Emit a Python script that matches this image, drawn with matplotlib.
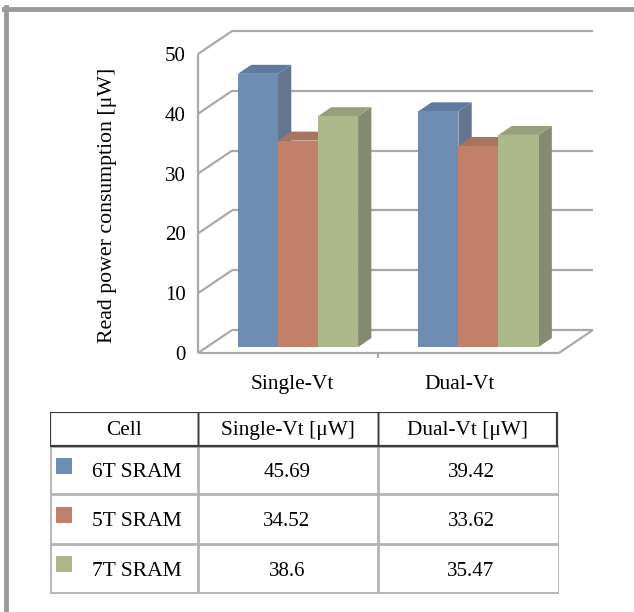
import numpy as np
import matplotlib
matplotlib.use("Agg")
import matplotlib.pyplot as plt
from matplotlib.patches import Polygon, Rectangle
from matplotlib.lines import Line2D

plt.rcParams['font.family'] = ['Liberation Serif', 'DejaVu Serif']

categories = ['Single-Vt', 'Dual-Vt']
cells = ['6T SRAM', '5T SRAM', '7T SRAM']
single_vt = [45.69, 34.52, 38.6]
dual_vt = [39.42, 33.62, 35.47]
yticks = [0, 10, 20, 30, 40, 50]
header = ['Cell', 'Single-Vt [\u03bcW]', 'Dual-Vt [\u03bcW]']

# front / top / side shades for each series
front_cols = ['#6f8cb3', '#c27f69', '#aeb98b']
top_cols = ['#5f7aa0', '#a8735f', '#97a07a']
side_cols = ['#65748f', '#9c6e5f', '#858b71']

W, H = 634, 612
fig = plt.figure(figsize=(W / 100, H / 100), dpi=100)

# depth of the box in data units
DX, DY = 0.189, 3.85
ymax = 50

def fbox(x0, y0, x1, y1):
    # pixel box (top-left origin) -> figure fraction rect
    return [x0 / W, 1 - y1 / H, (x1 - x0) / W, (y1 - y0) / H]

ax = fig.add_axes(fbox(198, 31, 593, 353))
ax.set_xlim(0, 2 + DX)
ax.set_ylim(0, ymax + DY)
for s in ax.spines.values():
    s.set_visible(False)

grid_c = '#a9a9a9'
gkw = dict(color=grid_c, lw=1.6, solid_capstyle='butt', zorder=1, clip_on=False)
for v in yticks:
    ax.plot([DX, 2 + DX], [v + DY, v + DY], **gkw)
    ax.plot([0, DX], [v, v + DY], **gkw)
ax.plot([0, 0], [0, ymax], **gkw)
ax.plot([0, 2], [0, 0], **gkw)
ax.plot([2, 2 + DX], [0, DY], **gkw)
ax.plot([1, 1], [0, -0.8], **gkw)

# pseudo-3D columns
bw = 0.222
d0, d1 = 0.26, 0.65
series = np.array([single_vt, dual_vt]).T
for gi, gc in enumerate([0.505, 1.505]):
    for si in range(3):
        v = series[si, gi]
        x0 = gc - 1.5 * bw + si * bw + d0 * DX
        x1 = x0 + bw
        y0 = d0 * DY
        ddx, ddy = (d1 - d0) * DX, (d1 - d0) * DY
        side = [(x1, y0), (x1 + ddx, y0 + ddy), (x1 + ddx, y0 + v + ddy), (x1, y0 + v)]
        top = [(x0, y0 + v), (x1, y0 + v), (x1 + ddx, y0 + v + ddy), (x0 + ddx, y0 + v + ddy)]
        ax.add_patch(Polygon(side, closed=True, fc=side_cols[si], ec='none', zorder=2))
        ax.add_patch(Polygon(top, closed=True, fc=top_cols[si], ec='none', zorder=2))
        ax.add_patch(Rectangle((x0, y0), bw, v, fc=front_cols[si], ec='none', zorder=3))

ax.set_yticks(yticks)
ax.set_yticklabels([str(t) for t in yticks], fontsize=15)
ax.set_xticks([0.52, 1.45])
ax.set_xticklabels(categories, fontsize=15.5)
ax.tick_params(axis='y', length=0, pad=9)
ax.tick_params(axis='x', length=0, pad=16)

fig.text(108 / W, 1 - 205 / H, 'Read power consumption [\u03bcW]',
         rotation=90, ha='center', va='center', fontsize=15.7)

# table below the chart
tx = fig.add_axes(fbox(50, 412, 559, 594))
tx.set_xlim(50, 559)
tx.set_ylim(594, 412)
tx.axis('off')
col_edges = [50, 198, 378, 557]
row_edges = [446, 494, 544, 593]
line_c = '#b3b3b3'
for xe in col_edges[1:3]:
    tx.plot([xe, xe], [412, 593], color=line_c, lw=2, zorder=1)
tx.plot([col_edges[0], col_edges[0]], [446, 593], color=line_c, lw=2)
tx.plot([559, 559], [446, 593], color=line_c, lw=2)
for ye in row_edges:
    tx.plot([50, 559], [ye, ye], color=line_c, lw=2)
tx.add_patch(Rectangle((50, 412), 507, 34, fc='none', ec='#3c3c3c', lw=1.6, zorder=3))
for xe in col_edges[1:3]:
    tx.plot([xe, xe], [412, 446], color='#3c3c3c', lw=1.0, zorder=3)

for i, h in enumerate(header):
    tx.text((col_edges[i] + col_edges[i + 1]) / 2, 431, h, ha='center', va='center', fontsize=15.3)

for r in range(3):
    yc = (row_edges[r] + row_edges[r + 1]) / 2
    tx.add_patch(Rectangle((56, yc - 12), 16, 16, fc=front_cols[r], ec='none'))
    tx.text(92, yc + 3, cells[r], ha='left', va='center', fontsize=15.5)
    tx.text(287, yc + 3, str(single_vt[r]), ha='center', va='center', fontsize=15)
    tx.text(471, yc + 3, str(dual_vt[r]), ha='center', va='center', fontsize=15)

# grey border along top and left
fig.add_artist(Line2D([4 / W, 1], [1 - 9 / H, 1 - 9 / H], color='#9a9a9a', lw=3.5))
fig.add_artist(Line2D([6 / W, 6 / W], [0, 1 - 7 / H], color='#9a9a9a', lw=3.5))

fig.savefig('out.png', dpi=100)
